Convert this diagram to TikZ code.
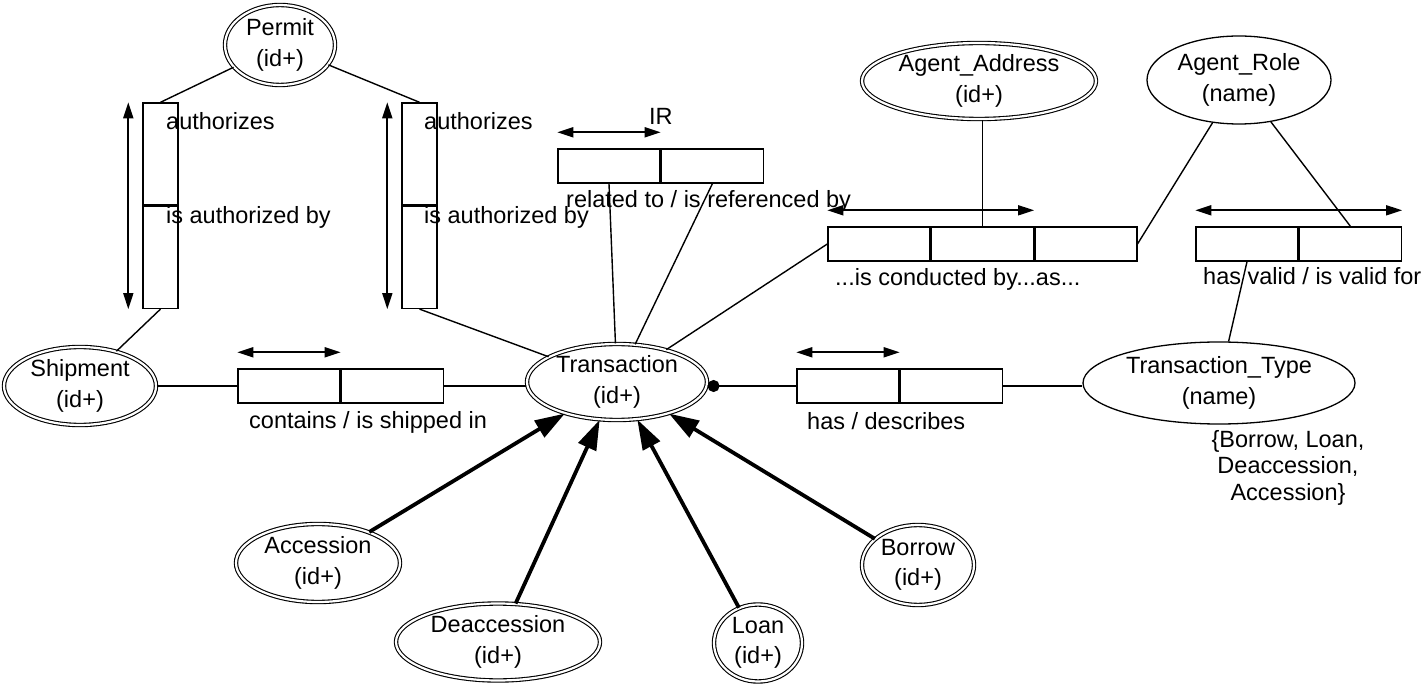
\documentclass[tikz,border=0pt]{standalone}
\usepackage{fontspec}
\setmainfont{Liberation Sans}
\usetikzlibrary{arrows.meta,shapes.geometric,calc}
\begin{document}
\begin{tikzpicture}[x=1pt,y=-1pt,
  every node/.style={font=\fontsize{23.5}{30.5}\selectfont, inner sep=0pt},
  ent/.style={draw, ellipse, double, double distance=2.2pt, line width=1.1pt, align=center},
  val/.style={draw, ellipse, line width=1.3pt, align=center},
  cell/.style={draw, rectangle, line width=1.4pt, minimum width=102pt, minimum height=34pt},
  vcell/.style={draw, rectangle, line width=1.4pt, minimum width=35pt, minimum height=102pt},
  conn/.style={line width=1.4pt},
  role/.style={line width=1.7pt, {Triangle[length=16pt,width=10pt]}-{Triangle[length=16pt,width=10pt]}},
  sub/.style={line width=3.8pt, -{Triangle[length=30pt,width=19pt]}},
  lab/.style={anchor=base west}
]
\useasboundingbox (0,0) rectangle (1425,684);

% entities
\node[ent, minimum width=110pt, minimum height=80pt] (permit) at (280,45) {Permit\\(id+)};
\node[ent, minimum width=152pt, minimum height=78pt] (ship) at (80,386) {Shipment\\(id+)};
\node[ent, minimum width=180pt, minimum height=76pt] (trans) at (617,382) {Transaction\\(id+)};
\node[ent, minimum width=234pt, minimum height=76pt] (aa) at (979,81) {Agent\_Address\\(id+)};
\node[val, minimum width=184pt, minimum height=88pt] (ar) at (1239,80) {Agent\_Role\\(name)};
\node[val, minimum width=272pt, minimum height=82pt] (tt) at (1219,383) {Transaction\_Type\\(name)};
\node[ent, minimum width=164pt, minimum height=78pt] (acc) at (318,563) {Accession\\(id+)};
\node[ent, minimum width=204pt, minimum height=77pt] (deacc) at (498,642) {Deaccession\\(id+)};
\node[ent, minimum width=88pt, minimum height=77pt] (loan) at (758,643) {Loan\\(id+)};
\node[ent, minimum width=112pt, minimum height=80pt] (borrow) at (918,565) {Borrow\\(id+)};

% fact type boxes
\node[vcell] (pl1) at (160.5,154) {};
\node[vcell, anchor=north] (pl2) at (pl1.south) {};
\node[vcell] (pr1) at (419.5,154) {};
\node[vcell, anchor=north] (pr2) at (pr1.south) {};
\node[cell] (c1) at (289,386) {};
\node[cell, anchor=west] (c2) at (c1.east) {};
\node[cell] (h1) at (848,386) {};
\node[cell, anchor=west] (h2) at (h1.east) {};
\node[cell] (ir1) at (609,166) {};
\node[cell, anchor=west] (ir2) at (ir1.east) {};
\node[cell] (cb1) at (879,244) {};
\node[cell, anchor=west] (cb2) at (cb1.east) {};
\node[cell, anchor=west] (cb3) at (cb2.east) {};
\node[cell] (hv1) at (1247,244) {};
\node[cell, anchor=west] (hv2) at (hv1.east) {};

% uniqueness arrows
\draw[role] ([xshift=-14pt]pl1.north west) -- ([xshift=-14pt]pl2.south west);
\draw[role] ([xshift=-14pt]pr1.north west) -- ([xshift=-14pt]pr2.south west);
\draw[role] ([yshift=16pt]c1.north west) -- ([yshift=16pt]c1.north east);
\draw[role] ([yshift=16pt]h1.north west) -- ([yshift=16pt]h1.north east);
\draw[role] ([yshift=16pt]ir1.north west) -- ([yshift=16pt]ir1.north east);
\draw[role] ([yshift=16pt]cb1.north west) -- ([yshift=16pt]cb2.north east);
\draw[role] ([yshift=16pt]hv1.north west) -- ([yshift=16pt]hv2.north east);

% connectors
\draw[conn] (permit) -- (pl1.north);
\draw[conn] (permit) -- (pr1.north);
\draw[conn] (pl2.south) -- (ship);
\draw[conn] (pr2.south) -- (trans);
\draw[conn] (ship.east |- c1.west) -- (c1.west);
\draw[conn] (c2.east) -- (trans.west |- c2.east);
\draw[conn] (ir1.south) -- (trans);
\draw[conn] (ir2.south) -- (trans);
\draw[conn] (cb1.west) -- (trans);
\draw[conn] (cb2.north) -- (cb2.north |- aa.south);
\draw[conn] (ar) -- (cb3.east);
\draw[conn] (ar) -- (hv2.north);
\draw[conn] (hv1.south) -- (tt);
\draw[conn, {Circle[length=12pt]}-] (trans.east |- h1.west) -- (h1.west);
\draw[conn] (h2.east) -- (tt.west |- h2.east);

% subtype arrows
\draw[sub] (acc) -- (trans);
\draw[sub] (deacc) -- (trans);
\draw[sub] (loan) -- (trans);
\draw[sub] (borrow) -- (trans);

% labels
\node[lab] (la1) at (166,130) {authorizes};
\node[lab] (la2) at (166,224) {is authorized by};
\node[lab] (la3) at (424,130) {authorizes};
\node[lab] (la4) at (424,224) {is authorized by};
\node[lab] (lir) at (649,125) {IR};
\node[lab] (lrel) at (566,208) {related to / is referenced by};
\node[lab] (lcon) at (249,429) {contains / is shipped in};
\node[lab] (lhas) at (807,430) {has / describes};
\node[lab] (lcond) at (835,286) {...is conducted by...as...};
\node[lab] (lvalid) at (1203,285) {has valid / is valid for};
\node[align=center, anchor=north, font=\fontsize{23.5}{26.5}\selectfont] (lset) at (1288,430) {\{Borrow, Loan,\\Deaccession,\\Accession\}};
\end{tikzpicture}
\end{document}
